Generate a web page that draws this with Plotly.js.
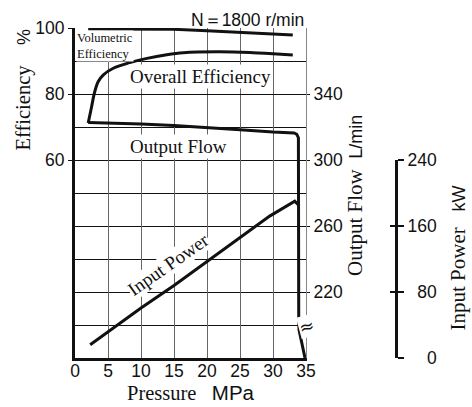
<!DOCTYPE html>
<html>
<head>
<meta charset="utf-8">
<script src="https://cdn.plot.ly/plotly-3.0.1.min.js"></script>
<style>html,body{margin:0;padding:0;background:#fff;}#chart{width:472px;height:407px;}</style>
</head>
<body>
<div id="chart"></div>
<script>
// ---- data ----
var pressureTicks = [0, 5, 10, 15, 20, 25, 30, 35];
var effTicks = [60, 80, 100];
var flowTicks = [220, 260, 300, 340];
var powerTicks = [0, 80, 160, 240];
var powerTickText = ["\u2007\u20070", "\u200780", "160", "240"];

var volPressure = [2, 10, 15, 20, 25, 30, 33];
var volEff = [99.7, 99.7, 99.6, 99.2, 98.7, 98.2, 97.9];

var overallPressure = [2, 2.5, 2.9, 3.5, 4.3, 5.8, 8.3, 10.9, 13.9, 16.4, 21.5, 26.5, 30, 33];
var overallEff = [71.2, 76, 80, 83.7, 85.8, 87.8, 89.5, 90.8, 91.9, 92.5, 92.8, 92.6, 92.2, 91.8];

var flowPressure = [2, 5, 10, 15, 20, 25, 30, 33.2, 33.6, 33.85, 33.9, 33.95, 34.85];
var outputFlow = [322.7, 322.4, 321.8, 320.9, 319.8, 318.4, 317, 316.4, 315.6, 313.5, 201, 197, 180];

var powerPressure = [2.3, 5, 10, 15, 20, 25, 29.5, 33.3, 33.85];
var inputPower = [16, 31.5, 60.5, 88, 117, 147, 172, 190, 185.5];

// ---- styling ----
var SANS = 'Liberation Sans, Arial, sans-serif';
var SERIF = 'Liberation Serif, Times New Roman, serif';
var INK = '#111';
var lineStyle = {color: INK, width: 3};

var traces = [
  {x: volPressure, y: volEff, xaxis: 'x', yaxis: 'y', mode: 'lines', line: lineStyle, hoverinfo: 'skip'},
  {x: overallPressure, y: overallEff, xaxis: 'x', yaxis: 'y', mode: 'lines', line: Object.assign({shape: 'spline', smoothing: 0.5}, lineStyle), hoverinfo: 'skip'},
  {x: flowPressure, y: outputFlow, xaxis: 'x', yaxis: 'y2', mode: 'lines', line: lineStyle, hoverinfo: 'skip'},
  {x: powerPressure, y: inputPower, xaxis: 'x', yaxis: 'y3', mode: 'lines', line: lineStyle, hoverinfo: 'skip'},
  {x: powerPressure, y: inputPower, xaxis: 'x', yaxis: 'y4', mode: 'lines', line: {color: 'rgba(0,0,0,0)', width: 0}, hoverinfo: 'skip'}
];

var L = 75, R = 10, T = 28, B = 49, W = 472, H = 407;
var pw = W - L - R, ph = H - T - B;
function px(x) { return (x - L) / pw; }
function py(y) { return (H - B - y) / ph; }
var xEnd = px(306);
var powerPos = px(396);

var tickFont = {family: SANS, size: 17.5, color: INK};

var layout = {
  width: W, height: H,
  margin: {l: L, r: R, t: T, b: B},
  paper_bgcolor: '#fff', plot_bgcolor: 'rgba(0,0,0,0)',
  showlegend: false,
  xaxis: {
    domain: [0, xEnd], range: [0, 35], tickmode: 'array', tickvals: pressureTicks,
    ticks: '', showgrid: true, gridcolor: '#666', gridwidth: 1,
    showline: true, linecolor: INK, linewidth: 3, zeroline: false,
    tickfont: tickFont, ticklabelstandoff: -5, fixedrange: true
  },
  yaxis: {
    domain: [0, 1], range: [0, 100], tickmode: 'array', tickvals: effTicks,
    ticks: 'outside', ticklen: 4, tickcolor: INK, tickwidth: 1,
    showgrid: true, gridcolor: INK, gridwidth: 1,
    minor: {tickmode: 'linear', tick0: 0, dtick: 10, showgrid: true, gridcolor: INK, gridwidth: 1, ticks: ''},
    showline: true, linecolor: INK, linewidth: 3, zeroline: false,
    tickfont: tickFont, fixedrange: true
  },
  yaxis2: {
    overlaying: 'y', side: 'right', anchor: 'x', range: [180, 380],
    tickmode: 'array', tickvals: flowTicks, ticks: 'outside', ticklen: 3, tickcolor: INK,
    showgrid: false, showline: true, linecolor: '#888', linewidth: 1, zeroline: false,
    tickfont: tickFont, fixedrange: true
  },
  yaxis3: {
    domain: [0, 0.6], anchor: 'free', position: powerPos, side: 'right', range: [0, 240],
    tickmode: 'array', tickvals: powerTicks, ticktext: powerTickText,
    ticks: 'outside', ticklen: 6, tickwidth: 1.5, tickcolor: INK,
    showgrid: false, showline: true, linecolor: INK, linewidth: 3, zeroline: false,
    tickfont: tickFont, fixedrange: true
  },
  yaxis4: {
    overlaying: 'y3', anchor: 'free', position: powerPos, side: 'right', range: [0, 240],
    tickmode: 'array', tickvals: powerTicks, ticks: 'inside', ticklen: 6, tickwidth: 1.5, tickcolor: INK,
    showticklabels: false, showgrid: false, showline: false, zeroline: false, fixedrange: true
  },
  annotations: [
    {xref: 'paper', yref: 'paper', x: xEnd, y: py(20), xanchor: 'right', yanchor: 'middle', showarrow: false,
     text: 'N\uFF1D1800 r/min', font: {family: SANS, size: 17.5, color: INK}},
    {xref: 'paper', yref: 'paper', x: px(76), y: py(46), xanchor: 'left', yanchor: 'middle', showarrow: false,
     align: 'left', text: 'Volumetric<br>Efficiency', font: {family: SERIF, size: 12.5, color: INK},
     bgcolor: '#fff', borderpad: 0},
    {xref: 'paper', yref: 'paper', x: px(200), y: py(77), xanchor: 'center', yanchor: 'middle', showarrow: false,
     text: 'Overall Efficiency', font: {family: SERIF, size: 19, color: INK}, bgcolor: '#fff', borderpad: 1},
    {xref: 'paper', yref: 'paper', x: px(178), y: py(146), xanchor: 'center', yanchor: 'middle', showarrow: false,
     text: 'Output Flow', font: {family: SERIF, size: 19, color: INK}, bgcolor: '#fff', borderpad: 1},
    {xref: 'paper', yref: 'paper', x: px(168), y: py(264), xanchor: 'center', yanchor: 'middle', showarrow: false,
     textangle: -35, text: 'Input Power', font: {family: SERIF, size: 19, color: INK}, bgcolor: '#fff', borderpad: 0},
    {xref: 'paper', yref: 'paper', x: px(191), y: py(393), xanchor: 'center', yanchor: 'middle', showarrow: false,
     text: 'Pressure\u00a0\u00a0\u00a0<span style="font-family:Liberation Sans">MPa</span>',
     font: {family: SERIF, size: 20.5, color: INK}},
    {xref: 'paper', yref: 'paper', x: px(22.5), y: py(90), xanchor: 'center', yanchor: 'middle', showarrow: false,
     textangle: -90,
     text: 'Efficiency\u00a0\u00a0\u00a0\u00a0<span style="font-family:Liberation Sans;font-size:18px">%</span>',
     font: {family: SERIF, size: 20.5, color: INK}},
    {xref: 'paper', yref: 'paper', x: px(355), y: py(196), xanchor: 'center', yanchor: 'middle', showarrow: false,
     textangle: -90,
     text: 'Output Flow\u00a0\u00a0<span style="font-family:Liberation Sans;font-size:18px">L/min</span>',
     font: {family: SERIF, size: 21, color: INK}},
    {xref: 'paper', yref: 'paper', x: px(457.5), y: py(258), xanchor: 'center', yanchor: 'middle', showarrow: false,
     textangle: -90,
     text: 'Input Power\u00a0\u00a0\u00a0<span style="font-family:Liberation Sans;font-size:18px">kW</span>',
     font: {family: SERIF, size: 21, color: INK}},
    {xref: 'paper', yref: 'paper', x: xEnd, y: py(326), xanchor: 'center', yanchor: 'middle', showarrow: false,
     textangle: -15, text: '\u2248', font: {family: 'DejaVu Sans', size: 18, color: INK}, bgcolor: '#fff', borderpad: 0}
  ]
};

Plotly.newPlot('chart', traces, layout, {staticPlot: true, displayModeBar: false});
</script>
</body>
</html>
